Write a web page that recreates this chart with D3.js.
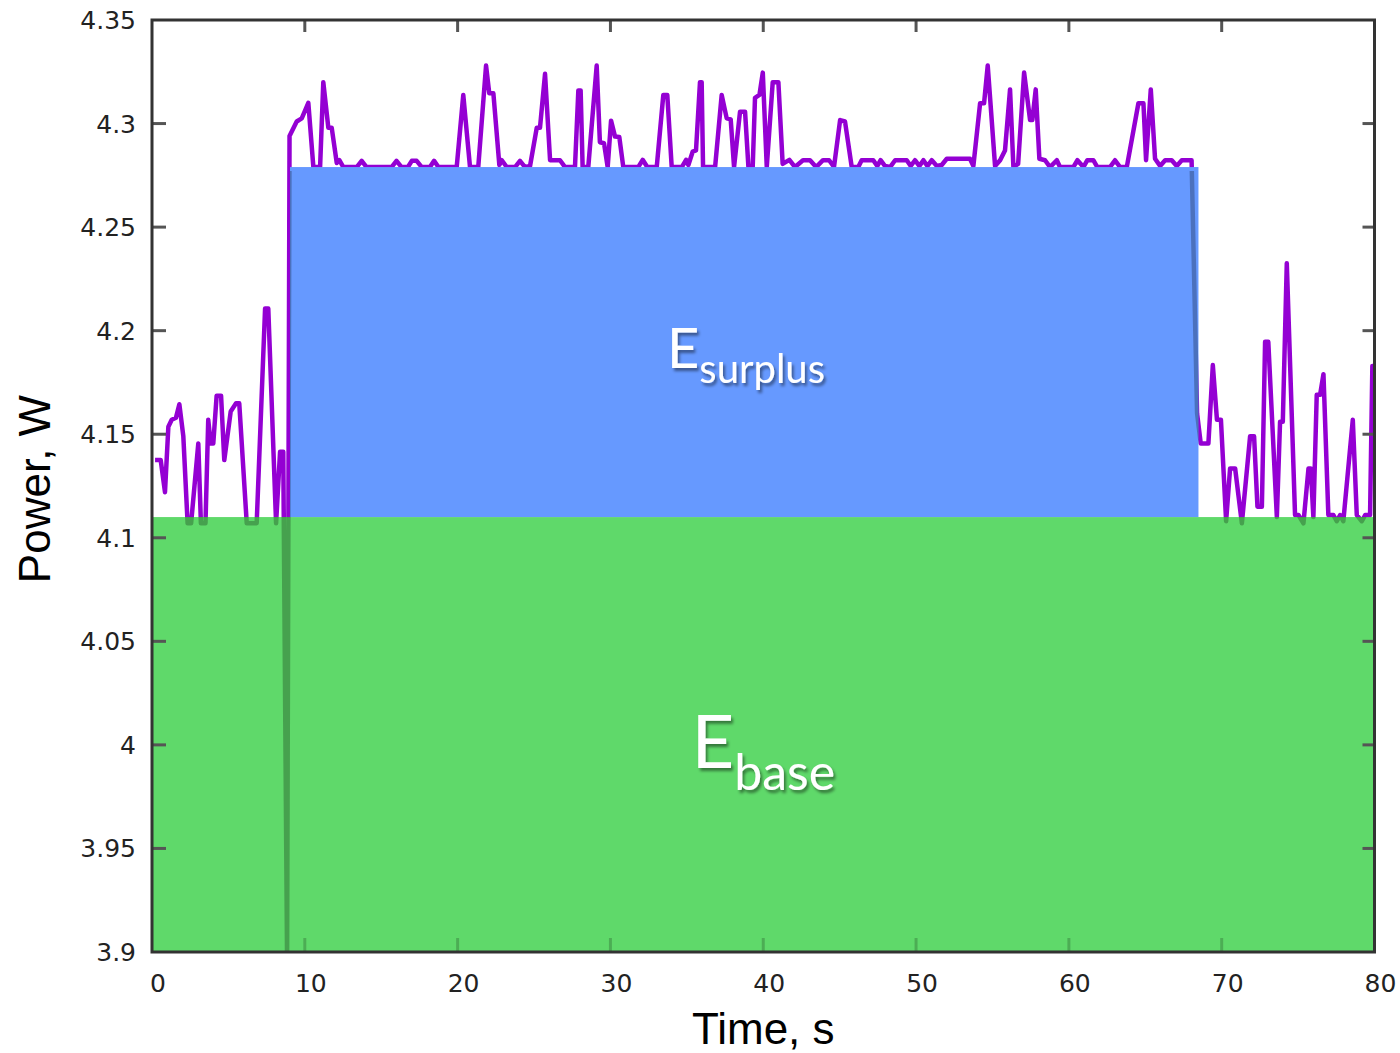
<!DOCTYPE html>
<html>
<head>
<meta charset="utf-8">
<script src="https://cdn.jsdelivr.net/npm/d3@7"></script>
<style>
  html, body { margin: 0; padding: 0; background: #fff; }
  #chart { width: 1400px; height: 1053px; }
</style>
</head>
<body>
<div id="chart"></div>
<script>
// power trace (time in s, power in W)
const timeS = [
  0.2, 0.57, 0.85, 1.07, 1.29, 1.57, 1.79, 2.05, 2.33, 2.56, 3.03, 3.2, 3.5, 3.68, 3.84, 4.01, 4.23, 4.52, 4.73, 5.15,
  5.5, 5.71, 6.2, 6.85, 7.4, 7.61, 8.12, 8.38, 8.59, 8.84, 9.0, 9.47, 9.8, 10.23, 10.56, 11.0, 11.21, 11.54, 11.76, 12.09,
  12.26, 12.52, 13.4, 13.72, 14.04, 15.68, 16.0, 16.33, 16.75, 17.0, 17.32, 17.65, 18.19, 18.46, 18.74, 19.94, 20.37, 20.81, 21.35, 21.86,
  22.07, 22.34, 22.73, 22.89, 23.21, 23.76, 24.08, 24.41, 24.74, 25.18, 25.39, 25.72, 26.05, 26.24, 26.7, 27.03, 27.68, 27.9, 28.05, 28.18,
  28.55, 29.1, 29.31, 29.58, 29.82, 30.04, 30.3, 30.58, 30.84, 31.82, 32.11, 32.41, 33.03, 33.46, 33.72, 34.01, 34.67, 34.95, 35.1, 35.38,
  35.6, 35.86, 35.97, 36.06, 36.85, 37.28, 37.61, 37.87, 38.09, 38.48, 38.81, 39.03, 39.31, 39.46, 39.75, 39.97, 40.23, 40.62, 40.99, 41.27,
  41.71, 42.08, 42.6, 43.06, 43.46, 43.91, 44.31, 44.63, 45.03, 45.35, 45.79, 46.22, 46.44, 47.2, 47.46, 47.68, 47.97, 48.3, 48.63, 49.39,
  49.65, 49.93, 50.22, 50.48, 50.74, 51.03, 51.36, 51.68, 52.01, 53.53, 53.75, 54.19, 54.45, 54.69, 55.17, 55.5, 55.82, 56.15, 56.37, 56.68,
  57.07, 57.46, 57.61, 57.83, 58.07, 58.44, 58.77, 59.21, 59.42, 60.29, 60.56, 60.95, 61.21, 61.6, 61.86, 62.69, 63.02, 63.35, 63.79, 64.55,
  64.88, 65.05, 65.36, 65.64, 65.97, 66.3, 66.73, 67.06, 67.39, 67.93, 68.03, 68.39, 68.63, 69.13, 69.42, 69.69, 69.95, 70.29, 70.55, 70.88,
  71.32, 71.86, 72.12, 72.34, 72.63, 72.84, 73.05, 73.61, 73.82, 74.0, 74.26, 74.8, 75.02, 75.35, 75.68, 75.83, 76.0, 76.22, 76.44, 76.66,
  76.98, 77.31, 77.53, 77.75, 77.96, 78.58, 78.84, 79.17, 79.39, 79.71, 79.86, 80.15
];
const powerW = [
  4.1375, 4.1375, 4.122, 4.1536, 4.157, 4.158, 4.1645, 4.149, 4.107, 4.107, 4.1455, 4.107, 4.107, 4.157, 4.1455, 4.1455, 4.1686, 4.1686, 4.1375, 4.161,
  4.1649, 4.1649, 4.107, 4.107, 4.2107, 4.2107, 4.107, 4.1415, 4.1415, 3.895, 4.294, 4.301, 4.3025, 4.31, 4.279, 4.279, 4.32, 4.298, 4.298, 4.281,
  4.2823, 4.279, 4.279, 4.282, 4.279, 4.279, 4.282, 4.279, 4.279, 4.282, 4.282, 4.279, 4.279, 4.282, 4.279, 4.279, 4.3138, 4.279, 4.279, 4.328,
  4.3146, 4.3146, 4.28, 4.2823, 4.279, 4.279, 4.282, 4.279, 4.2795, 4.298, 4.298, 4.324, 4.2823, 4.2823, 4.2823, 4.279, 4.279, 4.316, 4.316, 4.279,
  4.279, 4.328, 4.291, 4.2905, 4.279, 4.3014, 4.2937, 4.2935, 4.279, 4.279, 4.2825, 4.279, 4.279, 4.3138, 4.3138, 4.279, 4.279, 4.2825, 4.28, 4.2864,
  4.287, 4.32, 4.32, 4.279, 4.279, 4.3138, 4.3025, 4.302, 4.279, 4.3057, 4.3057, 4.279, 4.279, 4.3124, 4.3138, 4.3246, 4.279, 4.32, 4.32, 4.2805,
  4.2825, 4.279, 4.2823, 4.2823, 4.279, 4.2823, 4.2823, 4.279, 4.3017, 4.301, 4.279, 4.279, 4.2823, 4.2823, 4.2795, 4.2823, 4.2795, 4.279, 4.2823, 4.2823,
  4.2795, 4.2823, 4.2795, 4.2823, 4.2795, 4.2823, 4.2795, 4.28, 4.283, 4.283, 4.2795, 4.3098, 4.3098, 4.328, 4.2795, 4.2823, 4.287, 4.3165, 4.279, 4.2805,
  4.3246, 4.3017, 4.3017, 4.3165, 4.283, 4.2823, 4.279, 4.2823, 4.279, 4.279, 4.2823, 4.279, 4.2823, 4.2823, 4.279, 4.279, 4.2823, 4.279, 4.279, 4.3098,
  4.3098, 4.2823, 4.3165, 4.283, 4.2795, 4.2823, 4.2823, 4.2795, 4.2823, 4.2823, 4.2823, 4.16, 4.1455, 4.1455, 4.1834, 4.157, 4.157, 4.108, 4.1335, 4.1335,
  4.107, 4.149, 4.149, 4.115, 4.115, 4.1946, 4.1946, 4.11, 4.156, 4.156, 4.2325, 4.111, 4.111, 4.107, 4.1335, 4.1335, 4.11, 4.169, 4.169, 4.179,
  4.111, 4.111, 4.108, 4.111, 4.108, 4.157, 4.111, 4.108, 4.111, 4.111, 4.183, 4.183
];

// energy regions
const baseLevel = 4.11;
const surplusLevel = 4.279;
const surplusStart = 9.03;
const surplusEnd = 68.48;

// axes
const xTicks = [0, 10, 20, 30, 40, 50, 60, 70, 80];
const yTicks = [3.9, 3.95, 4, 4.05, 4.1, 4.15, 4.2, 4.25, 4.3, 4.35];
const yTickLabels = ["3.9", "3.95", "4", "4.05", "4.1", "4.15", "4.2", "4.25", "4.3", "4.35"];

const data = timeS.map((t, i) => ({ t: t, p: powerW[i] }));

const width = 1400;
const height = 1053;
const margin = { top: 20, right: 25.5, bottom: 101, left: 152 };

const x = d3.scaleLinear().domain([0, 80]).range([margin.left, width - margin.right]);
const y = d3.scaleLinear().domain([3.9, 4.35]).range([height - margin.bottom, margin.top]);

const svg = d3.select("#chart")
  .append("svg")
  .attr("width", width)
  .attr("height", height);

const defs = svg.append("defs");

// clip for the plot area
defs.append("clipPath").attr("id", "plotClip")
  .append("rect")
  .attr("x", x(0)).attr("y", y(4.35))
  .attr("width", x(80) - x(0)).attr("height", y(3.9) - y(4.35));

// clip for the part of the trace seen through the filled areas
const under = defs.append("clipPath").attr("id", "underClip");
under.append("rect")
  .attr("x", x(0)).attr("y", y(baseLevel))
  .attr("width", x(80) - x(0)).attr("height", y(3.9) - y(baseLevel));
under.append("rect")
  .attr("x", x(surplusStart)).attr("y", y(surplusLevel) + 4)
  .attr("width", x(surplusEnd) - x(surplusStart)).attr("height", y(baseLevel) - y(surplusLevel) - 4);

const shadow = defs.append("filter").attr("id", "shadow")
  .attr("x", "-20%").attr("y", "-20%").attr("width", "140%").attr("height", "140%");
shadow.append("feDropShadow")
  .attr("dx", 2).attr("dy", 3).attr("stdDeviation", 1.6)
  .attr("flood-color", "#000").attr("flood-opacity", 0.45);

const line = d3.line().x(d => x(d.t)).y(d => y(d.p));

// power trace
svg.append("path")
  .datum(data)
  .attr("clip-path", "url(#plotClip)")
  .attr("fill", "none")
  .attr("stroke", "#9400d3")
  .attr("stroke-width", 4.5)
  .attr("stroke-linejoin", "round")
  .attr("d", line);

// E_base area
svg.append("rect")
  .attr("x", x(0))
  .attr("y", y(baseLevel))
  .attr("width", x(80) - x(0))
  .attr("height", y(3.9) - y(baseLevel))
  .attr("fill", "#5fd96a");

// E_surplus area
svg.append("rect")
  .attr("x", x(surplusStart))
  .attr("y", y(surplusLevel))
  .attr("width", x(surplusEnd) - x(surplusStart))
  .attr("height", y(baseLevel) - y(surplusLevel))
  .attr("fill", "#6699ff");

// trace showing faintly through the areas
svg.append("g")
  .attr("clip-path", "url(#underClip)")
  .append("path")
  .datum(data)
  .attr("fill", "none")
  .attr("stroke", "#000")
  .attr("stroke-opacity", 0.26)
  .attr("stroke-width", 4.5)
  .attr("stroke-linejoin", "round")
  .attr("d", line);

// bottom ticks, faint under the green
svg.append("g")
  .selectAll("line")
  .data(xTicks.slice(1, -1))
  .join("line")
  .attr("x1", d => x(d)).attr("x2", d => x(d))
  .attr("y1", y(3.9)).attr("y2", y(3.9) - 14)
  .attr("stroke", "#000").attr("stroke-opacity", 0.2).attr("stroke-width", 3);

// top ticks
svg.append("g")
  .selectAll("line")
  .data(xTicks.slice(1, -1))
  .join("line")
  .attr("x1", d => x(d)).attr("x2", d => x(d))
  .attr("y1", y(4.35)).attr("y2", y(4.35) + 12)
  .attr("stroke", "#555").attr("stroke-width", 3);

// left and right ticks
svg.append("g")
  .selectAll("line")
  .data(yTicks.slice(1, -1))
  .join("line")
  .attr("x1", x(0)).attr("x2", x(0) + 14)
  .attr("y1", d => y(d)).attr("y2", d => y(d))
  .attr("stroke", "#555").attr("stroke-width", 3);

svg.append("g")
  .selectAll("line")
  .data(yTicks.slice(1, -1))
  .join("line")
  .attr("x1", x(80)).attr("x2", x(80) - 12)
  .attr("y1", d => y(d)).attr("y2", d => y(d))
  .attr("stroke", "#555").attr("stroke-width", 3);

// frame
svg.append("rect")
  .attr("x", x(0)).attr("y", y(4.35))
  .attr("width", x(80) - x(0)).attr("height", y(3.9) - y(4.35))
  .attr("fill", "none")
  .attr("stroke", "#333")
  .attr("stroke-width", 3);

// tick labels
svg.append("g")
  .selectAll("text")
  .data(yTicks)
  .join("text")
  .attr("x", x(0) - 16)
  .attr("y", d => y(d))
  .attr("dy", "0.36em")
  .attr("text-anchor", "end")
  .attr("font-family", "DejaVu Sans")
  .attr("font-size", 25)
  .attr("fill", "#222")
  .text((d, i) => yTickLabels[i]);

svg.append("g")
  .selectAll("text")
  .data(xTicks)
  .join("text")
  .attr("x", d => x(d) + 6)
  .attr("y", y(3.9) + 40)
  .attr("text-anchor", "middle")
  .attr("font-family", "DejaVu Sans")
  .attr("font-size", 25)
  .attr("fill", "#222")
  .text(d => d);

// axis titles
svg.append("text")
  .attr("x", (x(0) + x(80)) / 2)
  .attr("y", 1044)
  .attr("text-anchor", "middle")
  .attr("font-family", "Liberation Sans")
  .attr("font-size", 44)
  .attr("fill", "#000")
  .text("Time, s");

svg.append("text")
  .attr("transform", `translate(50,${(y(3.9) + y(4.35)) / 2 + 3}) rotate(-90)`)
  .attr("text-anchor", "middle")
  .attr("font-family", "Liberation Sans")
  .attr("font-size", 44)
  .attr("fill", "#000")
  .text("Power, W");

// area labels
const surplusLabel = svg.append("text")
  .attr("x", x(33.7))
  .attr("y", y(4.182))
  .attr("font-family", "Lato")
  .attr("fill", "#fff")
  .attr("filter", "url(#shadow)");
surplusLabel.append("tspan").attr("font-size", 56).text("E");
surplusLabel.append("tspan").attr("font-size", 40).attr("dy", 15).text("surplus");

const baseLabel = svg.append("text")
  .attr("x", x(35.3))
  .attr("y", y(3.9887))
  .attr("font-family", "Lato")
  .attr("fill", "#fff")
  .attr("filter", "url(#shadow)");
baseLabel.append("tspan").attr("font-size", 74).text("E");
baseLabel.append("tspan").attr("font-size", 50).attr("dy", 22).text("base");
</script>
</body>
</html>
